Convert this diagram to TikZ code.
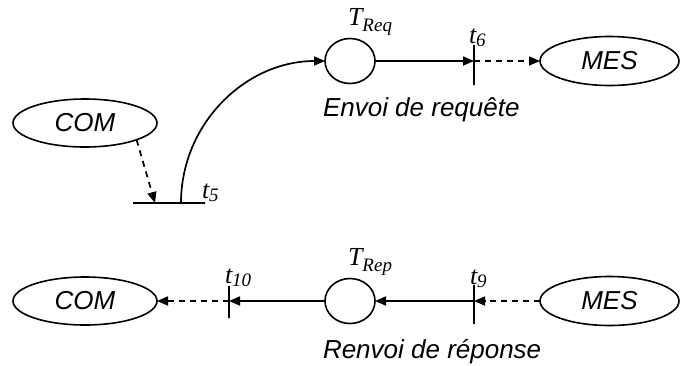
\documentclass[tikz,border=0pt]{standalone}
\usepackage{fontspec}
\setmainfont{Liberation Serif}
\setsansfont{Liberation Sans}
\usetikzlibrary{shapes.geometric,arrows.meta}

% italic label with a lowered subscript
\newcommand\lblsub[3]{#1\raisebox{-#3}{\fontsize{19}{20}\selectfont #2}}

\begin{document}
\begin{tikzpicture}[x=1pt,y=-1pt,
  every node/.style={inner sep=0pt, outer sep=0pt},
  conn/.style={line width=1.7pt, -{Triangle[length=11pt,width=9pt]}},
  flow/.style={conn, dash pattern=on 6pt off 5pt},
  place/.style={draw, ellipse, line width=1.6pt, minimum width=50pt, minimum height=45pt},
  ext/.style={draw, ellipse, line width=1.6pt, minimum width=144pt, minimum height=48pt,
    font=\fontsize{26}{30}\selectfont\sffamily\itshape},
  vbar/.style={draw, rectangle, line width=1.7pt, minimum width=0pt},
  hbar/.style={draw, rectangle, line width=1.7pt, minimum height=0pt},
  caption/.style={anchor=base west, font=\fontsize{26}{30}\selectfont\sffamily\itshape},
  tlabel/.style={anchor=base west, font=\fontsize{26}{30}\selectfont\itshape}]
\useasboundingbox (0,0) rectangle (680,365);

% --- request branch ---
\node[ext] (com1) at (85,123) {COM};
\node[hbar, minimum width=72pt] (t5) at (169,203) {};
\coordinate (t5in) at (155,203);
\coordinate (t5out) at (181,203);
\node[place] (treq) at (350,61) {};
\node[vbar, minimum height=40pt] (t6) at (474,65) {};
\node[ext, minimum width=139pt, minimum height=49pt] (mes1) at (609.5,61) {MES};

\draw[flow] (com1.-18) -- (t5in);
\draw[conn] (t5out) to[out=90, in=180] (treq);
\draw[conn] (treq) -- (treq -| t6);
\draw[flow] (treq -| t6) -- (mes1);

\node[tlabel] (lreq) at (348,25) {\lblsub{T}{Req}{6pt}};
\node[tlabel] (l6) at (469,43) {\lblsub{t}{6}{3pt}};
\node[tlabel] (l5) at (202,198) {\lblsub{t}{5}{3pt}};
\node[caption] (envoi) at (323,116) {Envoi de requête};

% --- reply branch ---
\node[ext] (com2) at (85,301) {COM};
\node[vbar, minimum height=32pt] (t10) at (229,302) {};
\node[place] (trep) at (350,301) {};
\node[vbar, minimum height=39pt] (t9) at (474,304.5) {};
\node[ext, minimum width=139pt, minimum height=49pt] (mes2) at (609.5,301) {MES};

\draw[flow] (mes2) -- (trep -| t9);
\draw[conn] (trep -| t9) -- (trep);
\draw[conn] (trep) -- (trep -| t10);
\draw[flow] (trep -| t10) -- (com2);

\node[tlabel] (lrep) at (348,265) {\lblsub{T}{Rep}{6pt}};
\node[tlabel] (l9) at (470,284) {\lblsub{t}{9}{3pt}};
\node[tlabel] (l10) at (225,283) {\lblsub{t}{10}{3pt}};
\node[caption] (renvoi) at (323,358) {Renvoi de réponse};
\end{tikzpicture}
\end{document}
